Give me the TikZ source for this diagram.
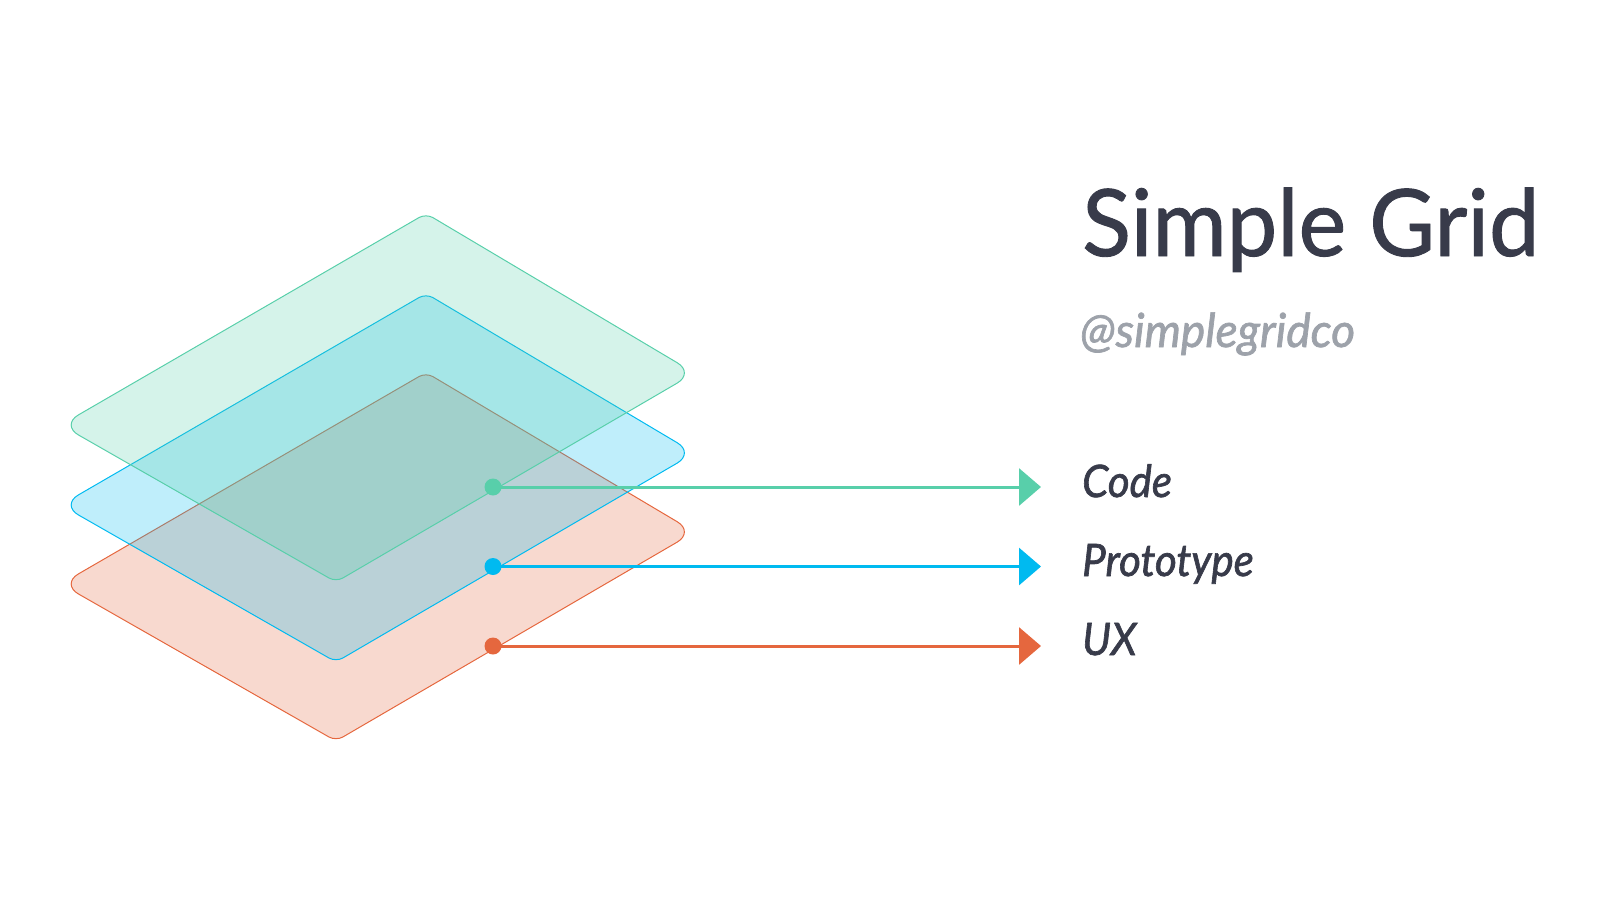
\documentclass[tikz,border=0pt]{standalone}
\usepackage{fontspec}
\setmainfont{Lato}
\newfontfamily\titlefont{Lato}[FakeBold=1]
\newfontfamily\lblfont{Lato}[FakeBold=1.5]
\usepackage{graphicx}
\usetikzlibrary{calc,arrows.meta}
\definecolor{cgreen}{RGB}{88,207,170}
\definecolor{cblue}{RGB}{0,186,240}
\definecolor{corange}{RGB}{229,103,62}
\definecolor{cdark}{RGB}{56,59,74}
\definecolor{cgray}{RGB}{157,162,170}
% rounded corner at vertex #2, coming from #1 going to #3, cut distance #4
\newcommand{\rcorner}[4]{%
  -- ($(#2)!#4!(#1)$) .. controls ($(#2)!0.45*#4!(#1)$) and ($(#2)!0.45*#4!(#3)$) .. ($(#2)!#4!(#3)$)}
\newcommand{\rlayer}[2]{%
  \path[layerbox=#2]
    ($(#1t)!8pt!(#1r)$)
    \rcorner{#1t}{#1r}{#1b}{20pt}
    \rcorner{#1r}{#1b}{#1l}{8pt}
    \rcorner{#1b}{#1l}{#1t}{20pt}
    \rcorner{#1l}{#1t}{#1r}{8pt}
    -- cycle;
}
\begin{document}
\begin{tikzpicture}[x=1pt,y=-1pt,
  layerbox/.style={draw=#1, line width=1pt, fill=#1, fill opacity=0.25, line join=round},
  dotnode/.style={circle, fill=#1, inner sep=0pt, minimum size=17pt},
  pointer/.style={draw=#1, line width=3pt, -{Triangle[length=22pt,width=37pt]}},
  lbl/.style={inner sep=0pt, anchor=base west, text=cdark},
]
\useasboundingbox (0,0) rectangle (1600,902);
% layer vertices
\foreach \p/\dy in {o/159, b/80, g/0}{
  \coordinate (\p t) at (426, 213.5+\dy);
  \coordinate (\p r) at (694.5, 373+\dy);
  \coordinate (\p b) at (336, 582+\dy);
  \coordinate (\p l) at (61, 425+\dy);
}
\rlayer{o}{corange}
\rlayer{b}{cblue}
\rlayer{g}{cgreen}
% dots and pointers
\coordinate (tip) at (1041,0);
\node[dotnode=cgreen] (gdot) at (493,487) {};
\node[dotnode=cblue] (bdot) at (493,566.5) {};
\node[dotnode=corange] (odot) at (493,646) {};
\draw[pointer=cgreen] (gdot.center) -- (gdot.center -| tip);
\draw[pointer=cblue] (bdot.center) -- (bdot.center -| tip);
\draw[pointer=corange] (odot.center) -- (odot.center -| tip);
% texts
\node[lbl] (title) at (1082,256) {\scalebox{0.97}[1]{\fontsize{93}{100}\titlefont Simple Grid}};
\node[lbl, text=cgray] (handle) at (1080,347) {\scalebox{0.98}[1]{\fontsize{47}{50}\lblfont\itshape @simplegridco}};
\node[lbl] (code) at (1082,497) {\scalebox{0.94}[1]{\fontsize{44.7}{48}\lblfont\itshape Code}};
\node[lbl] (proto) at (1082,576) {\scalebox{0.94}[1]{\fontsize{44.7}{48}\lblfont\itshape Prototype}};
\node[lbl] (ux) at (1082,655) {\scalebox{0.94}[1]{\fontsize{44.7}{48}\lblfont\itshape UX}};
\end{tikzpicture}
\end{document}
